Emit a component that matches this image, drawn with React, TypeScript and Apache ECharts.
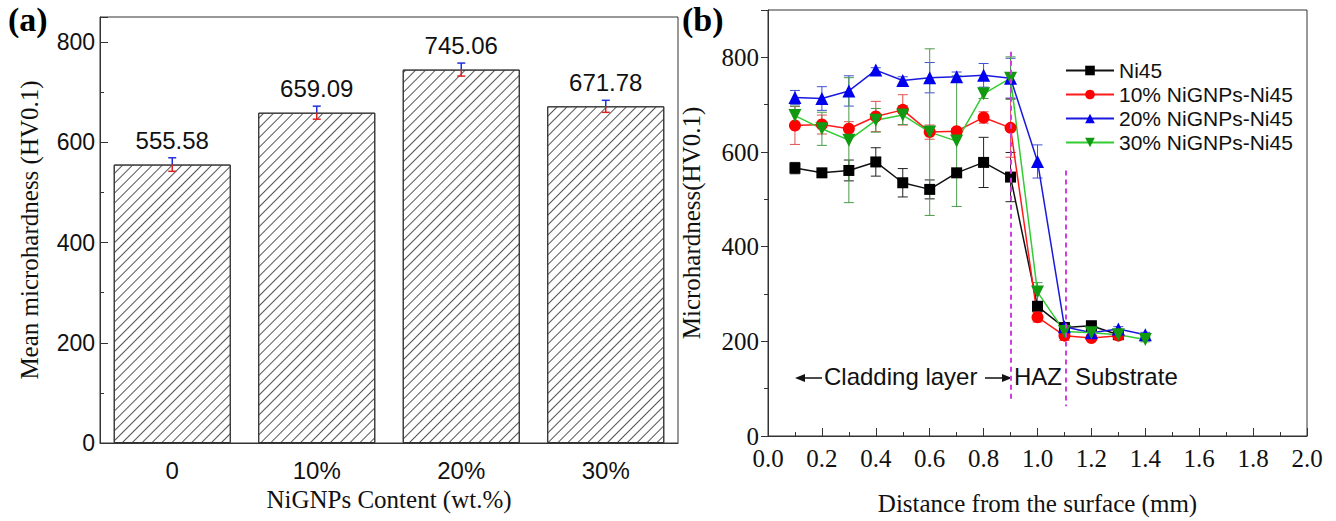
import React, { useEffect, useRef } from "react";
import * as echarts from "echarts";

// ---------- Data ----------
const barCategories = ["0", "10%", "20%", "30%"];
const barValues = [555.58, 659.09, 745.06, 671.78];
const barErrors = [13.5, 13, 13, 12];

const distances = [0.1, 0.2, 0.3, 0.4, 0.5, 0.6, 0.7, 0.8, 0.9, 1.0, 1.1, 1.2, 1.3, 1.4];

const ni45 = [566, 556, 561, 579, 535, 521, 556, 578, 547, 274, 229, 233, 214];
const ni45Err = [12, 5, 22, 30, 30, 20, 6, 53, 52, 8, 5, 5, 5];

const ni10 = [656, 658, 649, 675, 689, 642, 644, 673, 651, 251, 212, 207, 212];
const ni10Err = [40, 20, 15, 32, 32, 15, 6, 12, 62, 10, 10, 5, 5];

const ni20 = [715, 713, 729, 773, 751, 757, 759, 762, 756, 580, 231, 218, 226, 214];
const ni20Err = [15, 25, 32, 5, 8, 32, 10, 25, 42, 35, 8, 5, 5, 5];

const ni30 = [677, 649, 625, 667, 678, 642, 623, 723, 756, 304, 221, 218, 214, 204];
const ni30Err = [20, 35, 132, 25, 20, 176, 138, 10, 45, 20, 6, 5, 5, 5];

const dashLineX = [0.9, 1.105];
const dashLineTop = [812, 561];
const dashLineBottom = [70, 63];

const seriesNames = ["Ni45", "10% NiGNPs-Ni45", "20% NiGNPs-Ni45", "30% NiGNPs-Ni45"];

const SERIF = "Liberation Serif";
const SANS = "Liberation Sans";

function pairs(vals: number[]) {
  return vals.map((v, i) => [distances[i], v]);
}
function errTriples(vals: number[], errs: number[]) {
  return vals.map((v, i) => [distances[i], v, errs[i]]);
}

function makeErrSeries(vals: number[], errs: number[], color: string) {
  return {
    type: "custom",
    xAxisIndex: 1,
    yAxisIndex: 1,
    z: 1,
    silent: true,
    data: errTriples(vals, errs),
    renderItem: (params: any, api: any) => {
      const x = api.value(0);
      const y = api.value(1);
      const e = api.value(2);
      const top = api.coord([x, y + e]);
      const bot = api.coord([x, y - e]);
      const hw = 5;
      const st = { stroke: color, lineWidth: 1 };
      return {
        type: "group",
        children: [
          { type: "line", shape: { x1: top[0], y1: top[1], x2: bot[0], y2: bot[1] }, style: st },
          { type: "line", shape: { x1: top[0] - hw, y1: top[1], x2: top[0] + hw, y2: top[1] }, style: st },
          { type: "line", shape: { x1: bot[0] - hw, y1: bot[1], x2: bot[0] + hw, y2: bot[1] }, style: st },
        ],
      };
    },
  };
}

export default function App() {
  const ref = useRef<HTMLDivElement>(null);

  useEffect(() => {
    if (!ref.current) return;
    const chart = echarts.init(ref.current, null, { renderer: "svg" });

    const option: any = {
      animation: false,
      backgroundColor: "#ffffff",
      grid: [
        { left: 100, top: 17, width: 578, height: 426, show: true, borderColor: "#333", borderWidth: 1, backgroundColor: "transparent" },
        { left: 768, top: 10, width: 539, height: 433, show: true, borderColor: "#333", borderWidth: 1, backgroundColor: "transparent" },
      ],
      xAxis: [
        {
          type: "category",
          gridIndex: 0,
          data: barCategories,
          axisLine: { show: true, lineStyle: { color: "#333", width: 1 } },
          axisTick: { show: false },
          axisLabel: { fontFamily: SANS, fontSize: 24, color: "#111", margin: 15 },
          name: "NiGNPs Content (wt.%)",
          nameLocation: "middle",
          nameGap: 41,
          nameTextStyle: { fontFamily: SERIF, fontSize: 25, color: "#111", verticalAlign: "top" },
        },
        {
          type: "value",
          gridIndex: 1,
          min: 0,
          max: 2,
          interval: 0.2,
          axisLine: { show: true, lineStyle: { color: "#333", width: 1 } },
          axisTick: { show: true, inside: true, length: 8, lineStyle: { color: "#333" } },
          minorTick: { show: true, splitNumber: 2, length: 4, lineStyle: { color: "#333" } },
          splitLine: { show: false },
          axisLabel: { fontFamily: SERIF, fontSize: 25, color: "#111", margin: 10, formatter: (v: number) => v.toFixed(1) },
          name: "Distance from the surface (mm)",
          nameLocation: "middle",
          nameGap: 55,
          nameTextStyle: { fontFamily: SERIF, fontSize: 25, color: "#111", verticalAlign: "top" },
        },
      ],
      yAxis: [
        {
          type: "value",
          gridIndex: 0,
          min: 0,
          max: 850,
          interval: 200,
          axisLine: { show: true, lineStyle: { color: "#333", width: 1 } },
          axisTick: { show: true, inside: true, length: 8, lineStyle: { color: "#333" } },
          minorTick: { show: true, splitNumber: 2, length: 4, lineStyle: { color: "#333" } },
          splitLine: { show: false },
          axisLabel: { fontFamily: SANS, fontSize: 23, color: "#111", margin: 5, showMaxLabel: false },
          name: "Mean microhardness (HV0.1)",
          nameLocation: "middle",
          nameGap: 58,
          nameTextStyle: { fontFamily: SERIF, fontSize: 25, color: "#111" },
        },
        {
          type: "value",
          gridIndex: 1,
          min: 0,
          max: 900,
          interval: 200,
          axisLine: { show: true, lineStyle: { color: "#333", width: 1 } },
          axisTick: { show: true, inside: false, length: 7, lineStyle: { color: "#333" } },
          minorTick: { show: true, splitNumber: 2, length: 4, lineStyle: { color: "#333" } },
          splitLine: { show: false },
          axisLabel: { fontFamily: SERIF, fontSize: 25, color: "#111", margin: 9, showMaxLabel: false },
          name: "Microhardness(HV0.1)",
          nameLocation: "middle",
          nameGap: 64,
          nameTextStyle: { fontFamily: SERIF, fontSize: 25, color: "#111" },
        },
      ],
      legend: {
        data: seriesNames,
        orient: "vertical",
        left: 1060,
        top: 55,
        itemWidth: 48,
        itemHeight: 12,
        itemGap: 3,
        textStyle: { fontFamily: SANS, fontSize: 21, color: "#111" },
      },
      graphic: [
        { type: "text", left: 8, top: 2, style: { text: "(a)", fontFamily: SERIF, fontWeight: "bold", fontSize: 34, fill: "#000" } },
        { type: "text", left: 682, top: 2, style: { text: "(b)", fontFamily: SERIF, fontWeight: "bold", fontSize: 34, fill: "#000" } },
        // annotation arrows and text
        { type: "line", shape: { x1: 802, y1: 378, x2: 822, y2: 378 }, style: { stroke: "#111", lineWidth: 1.5 } },
        { type: "polygon", shape: { points: [[795, 378], [805, 374], [805, 382]] }, style: { fill: "#111" } },
        { type: "text", left: 824, top: 364, style: { text: "Cladding layer", fontFamily: SANS, fontSize: 24, fill: "#111" } },
        { type: "line", shape: { x1: 985, y1: 378, x2: 1004, y2: 378 }, style: { stroke: "#111", lineWidth: 1.5 } },
        { type: "polygon", shape: { points: [[1012, 378], [1002, 374], [1002, 382]] }, style: { fill: "#111" } },
        { type: "text", left: 1014, top: 364, style: { text: "HAZ", fontFamily: SANS, fontSize: 24, fill: "#111" } },
        { type: "text", left: 1075, top: 364, style: { text: "Substrate", fontFamily: SANS, fontSize: 24, fill: "#111" } },
      ],
      series: [
        {
          type: "bar",
          xAxisIndex: 0,
          yAxisIndex: 0,
          data: barValues,
          barWidth: "81%",
          itemStyle: {
            color: "#ffffff",
            borderColor: "#333",
            borderWidth: 1,
            decal: {
              symbol: "rect",
              symbolSize: 1,
              color: "#555",
              backgroundColor: null,
              dashArrayX: [1, 0],
              dashArrayY: [1, 6],
              rotation: -Math.PI / 4,
            },
          },
          label: {
            show: true,
            position: "top",
            distance: 12,
            fontFamily: SANS,
            fontSize: 24,
            color: "#111",
            formatter: (p: any) => Number(p.value).toFixed(2),
          },
        },
        {
          type: "custom",
          xAxisIndex: 0,
          yAxisIndex: 0,
          z: 5,
          silent: true,
          data: barValues.map((v, i) => [i, v, barErrors[i]]),
          renderItem: (params: any, api: any) => {
            const x = api.value(0);
            const y = api.value(1);
            const e = api.value(2);
            const mid = api.coord([x, y]);
            const top = api.coord([x, y + e]);
            const bot = api.coord([x, y - e]);
            const hw = 4;
            const blue = { stroke: "#2030e0", lineWidth: 1.5 };
            const red = { stroke: "#e02020", lineWidth: 1.5 };
            return {
              type: "group",
              children: [
                { type: "line", shape: { x1: mid[0], y1: top[1], x2: mid[0], y2: mid[1] }, style: blue },
                { type: "line", shape: { x1: mid[0] - hw, y1: top[1], x2: mid[0] + hw, y2: top[1] }, style: blue },
                { type: "line", shape: { x1: mid[0], y1: mid[1], x2: mid[0], y2: bot[1] }, style: red },
                { type: "line", shape: { x1: mid[0] - hw, y1: bot[1], x2: mid[0] + hw, y2: bot[1] }, style: red },
              ],
            };
          },
        },
        makeErrSeries(ni45, ni45Err, "#222"),
        makeErrSeries(ni10, ni10Err, "#e05050"),
        makeErrSeries(ni20, ni20Err, "#4050d0"),
        makeErrSeries(ni30, ni30Err, "#4a9a4a"),
        {
          name: seriesNames[0],
          type: "line",
          xAxisIndex: 1,
          yAxisIndex: 1,
          z: 3,
          data: pairs(ni45),
          symbol: "rect",
          symbolSize: 11,
          itemStyle: { color: "#000" },
          lineStyle: { color: "#111", width: 1.5 },
          markLine: {
            silent: true,
            symbol: ["none", "none"],
            label: { show: false },
            lineStyle: { color: "#d03ee0", type: [5, 4], width: 2 },
            data: dashLineX.map((x, i) => [
              { coord: [x, dashLineTop[i]] },
              { coord: [x, dashLineBottom[i]] },
            ]),
          },
        },
        {
          name: seriesNames[1],
          type: "line",
          xAxisIndex: 1,
          yAxisIndex: 1,
          z: 3,
          data: pairs(ni10),
          symbol: "circle",
          symbolSize: 12,
          itemStyle: { color: "#ff0000" },
          lineStyle: { color: "#ff1a1a", width: 1.5 },
        },
        {
          name: seriesNames[2],
          type: "line",
          xAxisIndex: 1,
          yAxisIndex: 1,
          z: 3,
          data: pairs(ni20),
          symbol: "triangle",
          symbolSize: 13,
          itemStyle: { color: "#0000ee" },
          lineStyle: { color: "#1a1adf", width: 1.5 },
        },
        {
          name: seriesNames[3],
          type: "line",
          xAxisIndex: 1,
          yAxisIndex: 1,
          z: 3,
          data: pairs(ni30),
          symbol: "triangle",
          symbolRotate: 180,
          symbolSize: 13,
          itemStyle: { color: "#119911" },
          lineStyle: { color: "#33cc33", width: 1.5 },
        },
      ],
    };

    chart.setOption(option);
    return () => chart.dispose();
  }, []);

  return (
    <div
      ref={ref}
      style={{ position: "absolute", left: 0, top: 0, width: 1336, height: 521, background: "#fff" }}
    />
  );
}
